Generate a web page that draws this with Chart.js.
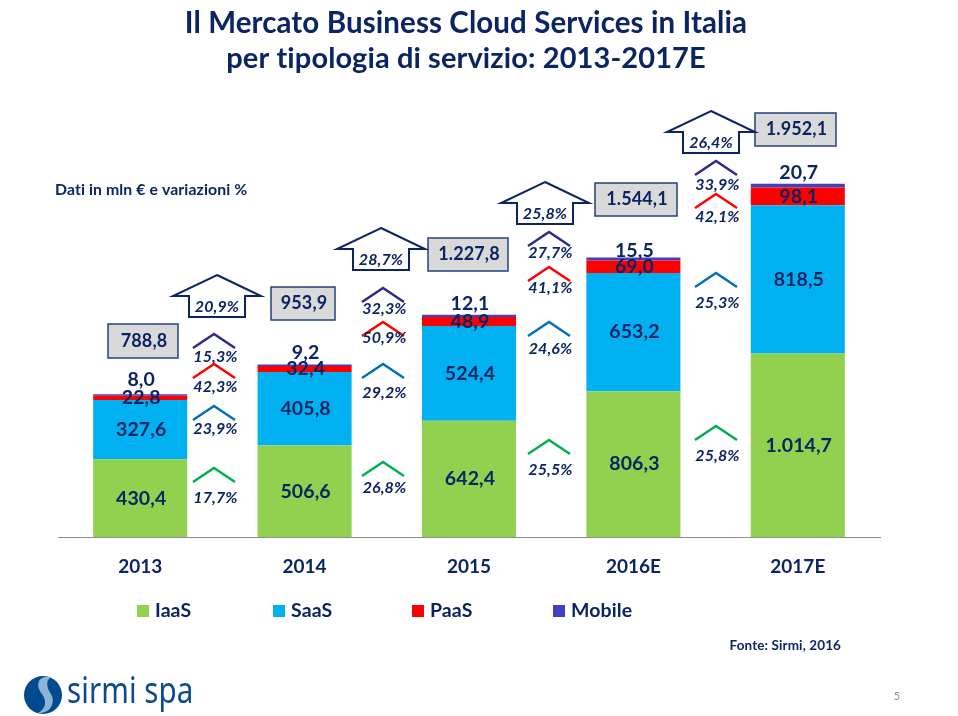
<!DOCTYPE html>
<html lang="it">
<head>
<meta charset="utf-8">
<title>Il Mercato Business Cloud Services in Italia</title>
<script src="https://cdn.jsdelivr.net/npm/chart.js@4"></script>
<style>
  html, body { margin: 0; padding: 0; background: #fff; }
  #wrap { width: 958px; height: 716px; }
</style>
</head>
<body>
<div id="wrap"><canvas id="ch" width="958" height="716"></canvas></div>
<script>
/* valori */
const years  = ['2013', '2014', '2015', '2016E', '2017E'];
const iaas   = [430.4, 506.6, 642.4, 806.3, 1014.7];
const saas   = [327.6, 405.8, 524.4, 653.2, 818.5];
const paas   = [22.8, 32.4, 48.9, 69.0, 98.1];
const mobile = [8.0, 9.2, 12.1, 15.5, 20.7];
const totals = [788.8, 953.9, 1227.8, 1544.1, 1952.1];

const totalGrowth  = ['20,9%', '28,7%', '25,8%', '26,4%'];
const iaasGrowth   = ['17,7%', '26,8%', '25,5%', '25,8%'];
const saasGrowth   = ['23,9%', '29,2%', '24,6%', '25,3%'];
const paasGrowth   = ['42,3%', '50,9%', '41,1%', '42,1%'];
const mobileGrowth = ['15,3%', '32,3%', '27,7%', '33,9%'];

const NAVY = '#0B2463';
const FONT = 'Lato, "Open Sans", sans-serif';

/* layout delle annotazioni (pixel) */
const chevX = [214, 383, 549, 716];
const chevRows = [
  { vals: mobileGrowth, color: '#2E2A8C', top: [334, 288, 232, 161], lab: [357, 309, 253, 185] },
  { vals: paasGrowth,   color: '#FF0000', top: [364, 322, 267, 194], lab: [387, 338, 288, 217] },
  { vals: saasGrowth,   color: '#0070C0', top: [406, 364, 322, 273], lab: [429, 393, 349, 303] },
  { vals: iaasGrowth,   color: '#00B050', top: [468, 462, 440, 426], lab: [498, 488, 470, 456] },
];
const houseX = [217, 381, 545, 711];
const houseY = [275, 228, 182, 111];
const boxes = [
  { x: 108, y: 324, w: 70, h: 34 },
  { x: 271, y: 287, w: 64, h: 33 },
  { x: 428, y: 238, w: 80, h: 33 },
  { x: 595, y: 183, w: 82, h: 33 },
  { x: 755, y: 113, w: 81, h: 33 },
];
const mobileGap = [15, 12, 11, 7, 11];
const legendX = [137, 273, 412, 553];

function fmt(v) {
  const [a, b] = v.toFixed(1).split('.');
  return a.replace(/\B(?=(\d{3})+$)/g, '.') + ',' + b;
}

function txt(ctx, s, x, y, font, color, align) {
  ctx.font = font;
  ctx.letterSpacing = '0.1px'; // niente legature di Lato
  ctx.fillStyle = color;
  ctx.textAlign = align || 'center';
  ctx.textBaseline = 'middle';
  ctx.fillText(s, x, y);
}

const sketchPlugin = {
  id: 'sketch',
  afterDatasetsDraw(chart) {
    const ctx = chart.ctx;
    ctx.save();

    // titolo e note
    txt(ctx, 'Il Mercato Business Cloud Services in Italia', 466, 23, `bold 29.5px ${FONT}`, NAVY);
    txt(ctx, 'per tipologia di servizio: 2013-2017E', 466, 59, `bold 29px ${FONT}`, NAVY);
    txt(ctx, 'Dati in mln € e variazioni %', 55, 190, `bold 15.8px ${FONT}`, NAVY, 'left');
    txt(ctx, 'Fonte: Sirmi, 2016', 841, 646, `bold 13.5px ${FONT}`, NAVY, 'right');
    txt(ctx, '5', 897, 696, `11px ${FONT}`, '#8C8C8C');

    // etichette sulle barre
    chart.data.datasets.forEach((ds, di) => {
      chart.getDatasetMeta(di).data.forEach((bar, i) => {
        const y = di === 3 ? bar.y - mobileGap[i] : (bar.y + bar.base) / 2;
        txt(ctx, fmt(ds.data[i]), bar.x + 1, y, `bold 19.5px ${FONT}`, NAVY);
      });
    });

    // totali
    boxes.forEach((b, i) => {
      ctx.fillStyle = '#D9D9D9';
      ctx.strokeStyle = '#23407C';
      ctx.lineWidth = 1.5;
      ctx.fillRect(b.x, b.y, b.w, b.h);
      ctx.strokeRect(b.x, b.y, b.w, b.h);
      txt(ctx, fmt(totals[i]), b.x + b.w / 2 + 1, b.y + b.h / 2, `bold 18px ${FONT}`, NAVY);
    });

    // frecce variazione totale
    ctx.lineJoin = 'miter';
    houseX.forEach((x, i) => {
      const y = houseY[i];
      ctx.beginPath();
      ctx.moveTo(x, y);
      ctx.lineTo(x + 44, y + 21);
      ctx.lineTo(x + 28, y + 21);
      ctx.lineTo(x + 28, y + 42);
      ctx.lineTo(x - 28, y + 42);
      ctx.lineTo(x - 28, y + 21);
      ctx.lineTo(x - 44, y + 21);
      ctx.closePath();
      ctx.strokeStyle = NAVY;
      ctx.lineWidth = 2;
      ctx.stroke();
      txt(ctx, totalGrowth[i], x, y + 32, `italic bold 16px ${FONT}`, NAVY);
    });

    // variazioni per servizio
    chevRows.forEach(row => {
      row.vals.forEach((v, i) => {
        const x = chevX[i], y = row.top[i];
        ctx.beginPath();
        ctx.moveTo(x - 21, y + 14);
        ctx.lineTo(x, y);
        ctx.lineTo(x + 21, y + 14);
        ctx.strokeStyle = row.color;
        ctx.lineWidth = 2.5;
        ctx.stroke();
        txt(ctx, v, x + 1.5, row.lab[i], `italic bold 16px ${FONT}`, NAVY);
      });
    });

    // legenda
    chart.data.datasets.forEach((ds, i) => {
      ctx.fillStyle = ds.backgroundColor;
      ctx.fillRect(legendX[i], 605, 12, 12);
      txt(ctx, ds.label, legendX[i] + 18, 611, `bold 19.5px ${FONT}`, NAVY, 'left');
    });

    // logo
    ctx.beginPath();
    ctx.arc(43, 695, 19, 0, Math.PI * 2);
    ctx.fillStyle = '#004A8F';
    ctx.fill();
    ctx.beginPath();
    ctx.moveTo(51, 677);
    ctx.bezierCurveTo(36, 675, 36, 687, 42, 694);
    ctx.bezierCurveTo(47, 701, 46, 709, 38, 713);
    ctx.bezierCurveTo(50, 714, 56, 703, 51, 694);
    ctx.bezierCurveTo(47, 688, 45, 681, 51, 677);
    ctx.fillStyle = '#8DB4D6';
    ctx.fill();
    ctx.translate(67, 693);
    ctx.scale(0.82, 1);
    txt(ctx, 'sirmi spa', 0, 0, `36px "Noto Sans", sans-serif`, '#0A4A8F', 'left');

    ctx.restore();
  }
};

new Chart(document.getElementById('ch'), {
  type: 'bar',
  data: {
    labels: years,
    datasets: [
      { label: 'IaaS',   data: iaas,   backgroundColor: '#92D050' },
      { label: 'SaaS',   data: saas,   backgroundColor: '#00B0F0' },
      { label: 'PaaS',   data: paas,   backgroundColor: '#FF0000' },
      { label: 'Mobile', data: mobile, backgroundColor: '#4040C0' },
    ]
  },
  options: {
    responsive: false,
    animation: false,
    barPercentage: 1,
    categoryPercentage: 0.572,
    layout: { padding: { left: 58, right: 78, top: 175, bottom: 120 } },
    plugins: { legend: { display: false }, tooltip: { enabled: false } },
    scales: {
      x: {
        stacked: true,
        grid: { display: false, drawTicks: false },
        border: { display: true, color: '#8C8C8C', width: 1 },
        ticks: { color: NAVY, padding: 18, maxRotation: 0, font: { family: 'Lato', size: 19, weight: 'bold' } }
      },
      y: { stacked: true, display: false, min: 0, max: 2000 }
    }
  },
  plugins: [sketchPlugin]
});
</script>
</body>
</html>
